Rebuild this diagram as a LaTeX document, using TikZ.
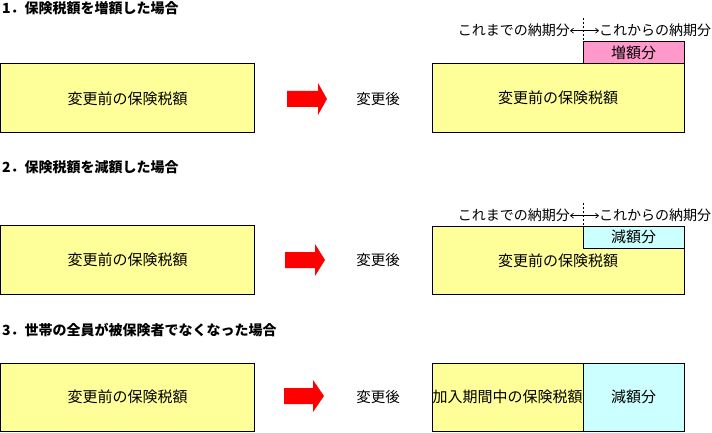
\documentclass[tikz,border=0pt]{standalone}
\usepackage{fontspec}
\setmainfont{Noto Sans CJK JP}
\usetikzlibrary{arrows.meta}
\definecolor{boxyellow}{HTML}{FFFF99}
\definecolor{boxpink}{HTML}{FF99CC}
\definecolor{boxcyan}{HTML}{CCFFFF}
\begin{document}
\begin{tikzpicture}[x=1pt,y=-1pt,
  box/.style={draw=black, line width=1pt, inner sep=0pt, outer sep=0pt, anchor=north west, font=\fontsize{15}{18}\selectfont},
  titletext/.style={anchor=west, inner sep=0pt, font=\fontsize{14}{16}\selectfont\bfseries},
  plain/.style={inner sep=0pt, font=\fontsize{14.5}{17}\selectfont},
  lbl/.style={inner sep=0pt, font=\fontsize{14}{17}\selectfont},
  divider/.style={line width=0.8pt, dash pattern=on 2pt off 2pt},
  period/.style={line width=0.7pt, {Straight Barb[length=3pt,width=5pt]}-{Straight Barb[length=3pt,width=5pt]}},
  redarrow/.style={fill=red, draw=none}
]
\useasboundingbox (0,0) rectangle (712,433);

% ---------- Section 1 ----------
\node[titletext] (t1) at (2,8.5) {1．保険税額を増額した場合};
\node[box, fill=boxyellow, minimum width=254pt, minimum height=69pt] (a1) at (0.5,64) {変更前の保険税額};
\fill[redarrow, shift={(287,99)}] (0,-8) -- (31,-8) -- (31,-16) -- (40,0) -- (31,16) -- (31,8) -- (0,8) -- cycle;
\node[plain] (after1) at (378,99) {変更後};
\node[box, fill=boxyellow, minimum width=252pt, minimum height=68.5pt] (b1) at (432,64) {変更前の保険税額};
\node[box, fill=boxpink, minimum width=101pt, minimum height=22pt] (p1) at (583,42) {増額分};
\coordinate (d1) at (583,18);
\draw[divider] (d1) -- (p1.north west);
\node[lbl, anchor=east] (lt1) at (570,30.7) {これまでの納期分};
\node[lbl, anchor=west] (rt1) at (599,30.7) {これからの納期分};
\draw[period] (lt1.east) -- (rt1.west);

% ---------- Section 2 ----------
\node[titletext] (t2) at (2,167) {2．保険税額を減額した場合};
\node[box, fill=boxyellow, minimum width=254pt, minimum height=69pt] (a2) at (0.5,225) {変更前の保険税額};
\fill[redarrow, shift={(285,260)}] (0,-8) -- (30,-8) -- (30,-16) -- (40,0) -- (30,16) -- (30,8) -- (0,8) -- cycle;
\node[plain] (after2) at (378,260) {変更後};
\node[box, fill=boxyellow, minimum width=252pt, minimum height=68pt] (b2) at (432,226) {};
\node[font=\fontsize{15}{18}\selectfont, inner sep=0pt] (b2t) at (558,261) {変更前の保険税額};
\node[box, fill=boxcyan, minimum width=101pt, minimum height=22pt] (c2) at (583,226) {減額分};
\coordinate (d2) at (583,203);
\draw[divider] (d2) -- (c2.north west);
\node[lbl, anchor=east] (lt2) at (570,215.7) {これまでの納期分};
\node[lbl, anchor=west] (rt2) at (599,215.7) {これからの納期分};
\draw[period] (lt2.east) -- (rt2.west);

% ---------- Section 3 ----------
\node[titletext] (t3) at (2,330) {3．世帯の全員が被保険者でなくなった場合};
\node[box, fill=boxyellow, minimum width=254pt, minimum height=68.5pt] (a3) at (0.5,363) {変更前の保険税額};
\fill[redarrow, shift={(284,396)}] (0,-8) -- (29,-8) -- (29,-16) -- (40,0) -- (29,16) -- (29,8) -- (0,8) -- cycle;
\node[plain] (after3) at (378,397) {変更後};
\node[box, fill=boxyellow, minimum width=151pt, minimum height=68.5pt] (y3) at (432,363) {加入期間中の保険税額};
\node[box, fill=boxcyan, minimum width=101pt, minimum height=68.5pt] (c3) at (583,363) {減額分};
\end{tikzpicture}
\end{document}
